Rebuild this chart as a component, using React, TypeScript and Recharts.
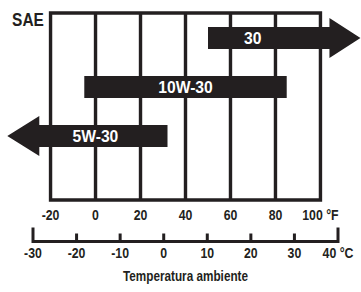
import React from "react";
import {
  ComposedChart,
  Bar,
  XAxis,
  YAxis,
  ReferenceArea,
  ReferenceLine,
  Label,
} from "recharts";

const grades = ["30", "10W-30", "5W-30"];
const fromF = [50, -5, -25];
const toF = [104, 85, 32];
const openEnd = ["right", "none", "left"];

const fTicks = [-20, 0, 20, 40, 60, 80, 100];
const cTicks = [-30, -20, -10, 0, 10, 20, 30, 40];

const INK = "#231f20";
const FONT = "'Liberation Sans', Arial, sans-serif";
const W = 361;
const H = 292;
const M = { top: 13, right: 23, bottom: 0, left: 33 };
// the °C line is drawn piece by piece between ticks
const cStep = (W - M.left - M.right) / (cTicks.length - 1);

const data = grades.map((g, i) => ({
  grade: g,
  span: [fromF[i], toF[i]],
  open: openEnd[i],
}));

function CondText({ x, y, size, sx, fill = INK, children }: any) {
  return (
    <text
      transform={`translate(${x},${y}) scale(${sx},1)`}
      textAnchor="middle"
      fontSize={size}
      fontWeight="bold"
      fontFamily={FONT}
      fill={fill}
    >
      {children}
    </text>
  );
}

function GradeArrow(props: any) {
  const { x, y, width, height, payload } = props;
  const cy = y + height / 2;
  let d = `M${x},${y}h${width}v${height}h${-width}Z`;
  let shift = 0;
  if (payload.open === "right") {
    d += `M${x + width},${cy - 20}L${x + width + 31},${cy}L${x + width},${cy + 20}Z`;
    shift = -16;
  } else if (payload.open === "left") {
    d += `M${x},${cy - 20}L${x - 32},${cy}L${x},${cy + 20}Z`;
    shift = -8;
  }
  return (
    <g>
      <path d={d} fill={INK} />
      <CondText x={x + width / 2 + shift} y={cy + 6} size={16.5} sx={0.95} fill="#fff">
        {payload.grade}
      </CondText>
    </g>
  );
}

function FTick({ x, y, payload }: any) {
  const v = payload.value;
  return (
    <CondText x={x} y={y + 19.5} size={15} sx={0.82}>
      {v === 100 ? "100 °F" : String(v)}
    </CondText>
  );
}

function CTick({ x, y, payload, index }: any) {
  const v = payload.value;
  const last = index === cTicks.length - 1;
  const end = index === 0 || last;
  const ly = y + 0.5;
  return (
    <g>
      {!last && (
        <line x1={x} x2={x + cStep} y1={ly} y2={ly} stroke={INK} strokeWidth={3} />
      )}
      <line
        x1={x}
        x2={x}
        y1={ly + 1.5}
        y2={ly - (end ? 14 : 8)}
        stroke={INK}
        strokeWidth={3}
      />
      <CondText x={x} y={y + 16.5} size={15} sx={0.82}>
        {v === 40 ? "40 °C" : String(v)}
      </CondText>
    </g>
  );
}

export default function App() {
  return (
    <div style={{ position: "absolute", left: 0, top: 0, background: "#fff" }}>
      <ComposedChart width={W} height={H} data={data} layout="vertical" margin={M}>
        <XAxis
          xAxisId={0}
          type="number"
          domain={[-27.8, 107.8]}
          ticks={fTicks}
          tick={<FTick />}
          tickSize={0}
          tickMargin={0}
          axisLine={false}
          tickLine={false}
          height={41}
          interval={0}
        />
        <XAxis
          xAxisId={1}
          type="number"
          domain={[-30, 40]}
          allowDataOverflow
          ticks={cTicks}
          tick={<CTick />}
          tickSize={0}
          tickMargin={0}
          axisLine={false}
          tickLine={false}
          height={51}
          interval={0}
        >
          <Label
            content={(p: any) => {
              const vb = p.viewBox;
              return (
                <CondText x={vb.x + vb.width / 2} y={vb.y + 40} size={14} sx={0.84}>
                  Temperatura ambiente
                </CondText>
              );
            }}
          />
        </XAxis>
        <YAxis
          yAxisId={0}
          type="category"
          dataKey="grade"
          hide
          padding={{ top: 0, bottom: 40 }}
        />
        <YAxis yAxisId={1} type="number" domain={[0, 1]} allowDataOverflow hide />
        <ReferenceArea
          xAxisId={0}
          yAxisId={1}
          x1={-20}
          x2={100}
          fill="none"
          fillOpacity={0}
          stroke={INK}
          strokeWidth={3.4}
          zIndex={-10}
        />
        {fTicks.slice(1, -1).map((t) => (
          <ReferenceLine
            key={t}
            xAxisId={0}
            yAxisId={1}
            x={t}
            stroke={INK}
            strokeWidth={3.4}
            zIndex={-10}
          />
        ))}
        <Bar
          xAxisId={0}
          yAxisId={0}
          dataKey="span"
          barSize={22}
          shape={<GradeArrow />}
          isAnimationActive={false}
          zIndex={1000}
        />
        <text
          x={28}
          y={26}
          textAnchor="middle"
          fontSize={18}
          fontWeight="bold"
          fontFamily={FONT}
          fill={INK}
          transform="translate(28,0) scale(0.86,1) translate(-28,0)"
        >
          SAE
        </text>
      </ComposedChart>
    </div>
  );
}
